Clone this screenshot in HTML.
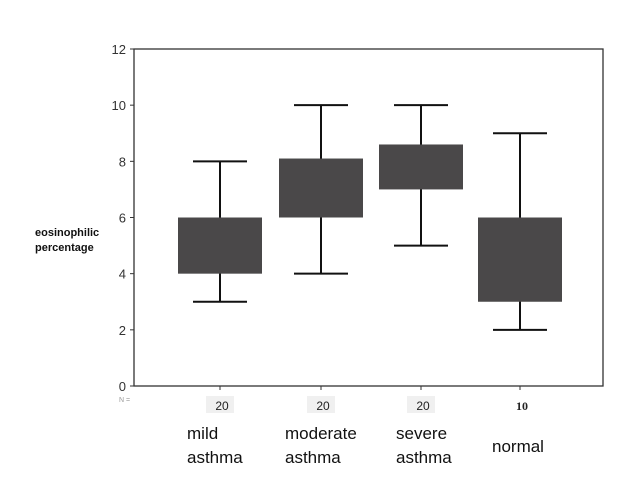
<!DOCTYPE html>
<html><head><meta charset="utf-8"><style>
html,body{margin:0;padding:0;background:#fff;}
svg{display:block;font-family:"Liberation Sans",sans-serif;}
</style></head><body>
<svg id="chart" width="631" height="497" viewBox="0 0 631 497">
  <g id="axes"></g>
  <g id="marks"></g>
  <text x="35" y="236" font-size="11" font-weight="bold" fill="#111">eosinophilic</text>
  <text x="35" y="251" font-size="11" font-weight="bold" fill="#111">percentage</text>
  <text x="119" y="402" font-size="7" fill="#999">N =</text>
</svg>
<script>
const categories = ["mild asthma","moderate asthma","severe asthma","normal"];
const nCounts = ["20","20","20","10"];
const whiskerLow = [3,4,5,2];
const q1 = [4,6,7,3];
const q3 = [6,8.1,8.6,6];
const whiskerHigh = [8,10,10,9];
const yTicks = [0,2,4,6,8,10,12];

const NS="http://www.w3.org/2000/svg";
const plotLeft=134,plotRight=603,plotTop=49,plotBottom=386;
const yMin=0,yMax=12;
function yScale(v){return plotBottom-(v-yMin)/(yMax-yMin)*(plotBottom-plotTop);}
const xCenters=[220,321,421,520];
function xScale(i){return xCenters[i];}
function mk(tag,attrs,parent){const e=document.createElementNS(NS,tag);for(const k in attrs)e.setAttribute(k,attrs[k]);parent.appendChild(e);return e;}
const axesG=document.getElementById('axes'), marksG=document.getElementById('marks');

const frame=mk('rect',{x:plotLeft,y:plotTop,width:plotRight-plotLeft,height:plotBottom-plotTop,fill:'none',stroke:'#333','stroke-width':1.3},axesG);


yTicks.forEach(t=>{
  const tk=mk('line',{x1:plotLeft-4,x2:plotLeft,y1:yScale(t),y2:yScale(t),stroke:'#333'},axesG);
  
  
  const lb=mk('text',{x:plotLeft-8,y:yScale(t)+5,'text-anchor':'end','font-size':13,fill:'#333'},axesG);
  lb.textContent=t;
  
  
});
categories.forEach((c,i)=>{
  const cx=xScale(i);
  const tk=mk('line',{x1:cx,x2:cx,y1:plotBottom,y2:plotBottom+4,stroke:'#333'},axesG);
  
  
  if(i<3){const bg=mk('rect',{x:cx-14,y:396,width:28,height:17,fill:'#f0f0f0'},axesG);
    
    }
  const n=mk('text',{x:cx+2,y:410,'text-anchor':'middle','font-size':12,fill:'#222','font-weight':i==3?'bold':'normal','font-family':i==3?'Liberation Serif, serif':'Liberation Sans, sans-serif'},axesG);
  n.textContent=nCounts[i];
  
  
  const words=c.split(' ');
  const lx=[187,285,396,492][i];
  if(words.length===2){
    words.forEach((w,j)=>{const t=mk('text',{x:lx,y:439+j*24,'font-size':17,fill:'#111'},axesG);t.textContent=w;
      
      });
  } else {
    const t=mk('text',{x:lx,y:452,'font-size':17,fill:'#111'},axesG);t.textContent=c;
    
    
  }
  const g=mk('g',{},marksG);
  
  
  mk('line',{x1:cx,x2:cx,y1:yScale(whiskerHigh[i]),y2:yScale(whiskerLow[i]),stroke:'#111','stroke-width':2},g);
  mk('line',{x1:cx-27,x2:cx+27,y1:yScale(whiskerHigh[i]),y2:yScale(whiskerHigh[i]),stroke:'#111','stroke-width':2},g);
  mk('line',{x1:cx-27,x2:cx+27,y1:yScale(whiskerLow[i]),y2:yScale(whiskerLow[i]),stroke:'#111','stroke-width':2},g);
  mk('rect',{x:cx-42,y:yScale(q3[i]),width:84,height:yScale(q1[i])-yScale(q3[i]),fill:'#4a4849'},g);
});
</script>
</body></html>
